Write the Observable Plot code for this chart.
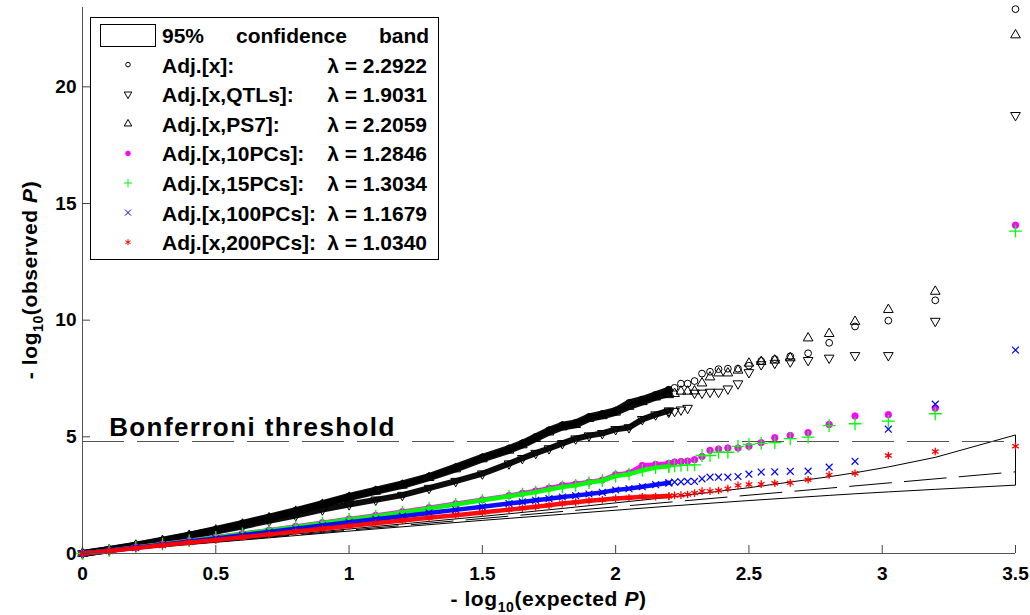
<!DOCTYPE html>
<html><head><meta charset="utf-8">
<script src="https://cdn.jsdelivr.net/npm/d3@7"></script>
<script src="https://cdn.jsdelivr.net/npm/@observablehq/plot@0.6"></script>
<style>
html,body{margin:0;padding:0;background:#fff;}
#chart{position:relative;width:1030px;height:615px;overflow:hidden;}
</style></head><body><div id="chart"></div>
<script>
const FONT = '"Liberation Sans", Arial, Helvetica, sans-serif';

// ---- axis ticks ----
const xTicks = [0, 0.5, 1, 1.5, 2, 2.5, 3, 3.5];
const yTicks = [0, 5, 10, 15, 20];

// ---- reference lines ----
const bonferroni = 4.80;
const diagX = [0, 3.5];
const bandX     = [0, 0.5, 1.0, 1.5, 1.8, 2.2, 2.5, 2.801, 2.898, 3.023, 3.199, 3.5];
const bandUpper = [0, 0.52, 1.05, 1.59, 1.93, 2.41, 2.82, 3.29, 3.46, 3.71, 4.12, 5.08];
const bandLower = [0, 0.48, 0.96, 1.42, 1.68, 2.03, 2.27, 2.49, 2.56, 2.64, 2.75, 2.93];

// ---- legend ----
const seriesNames = ["Adj.[x]:", "Adj.[x,QTLs]:", "Adj.[x,PS7]:", "Adj.[x,10PCs]:", "Adj.[x,15PCs]:", "Adj.[x,100PCs]:", "Adj.[x,200PCs]:"];
const lambdas = ["2.2922", "1.9031", "2.2059", "1.2846", "1.3034", "1.1679", "1.0340"];

// ---- dense body of each QQ curve (expected -log10 P vs observed) ----
const bodyX = [0, 0.1, 0.2, 0.3, 0.4, 0.5, 0.6, 0.7, 0.8, 0.9, 1.0, 1.1, 1.2, 1.3, 1.4, 1.5, 1.6, 1.65, 1.7, 1.75, 1.8, 1.85, 1.9, 1.95, 2.0, 2.05, 2.1, 2.15, 2.2];
const bodyAdj   = [0, 0.17, 0.36, 0.57, 0.79, 1.03, 1.29, 1.56, 1.84, 2.14, 2.45, 2.72, 2.98, 3.30, 3.70, 4.12, 4.50, 4.72, 5.00, 5.28, 5.50, 5.60, 5.85, 5.98, 6.12, 6.45, 6.60, 6.80, 7.00];
const bodyQTL   = [0, 0.15, 0.33, 0.52, 0.72, 0.94, 1.16, 1.40, 1.63, 1.88, 2.10, 2.30, 2.50, 2.80, 3.10, 3.42, 3.85, 4.08, 4.30, 4.50, 4.72, 4.92, 5.05, 5.15, 5.32, 5.40, 5.75, 5.95, 6.12];
const bodyPS7   = [0, 0.16, 0.35, 0.55, 0.77, 1.00, 1.25, 1.52, 1.80, 2.10, 2.40, 2.66, 2.92, 3.25, 3.62, 4.05, 4.42, 4.65, 4.92, 5.20, 5.42, 5.52, 5.78, 5.90, 6.05, 6.30, 6.50, 6.70, 6.85];
const body10PC  = [0, 0.12, 0.26, 0.40, 0.55, 0.70, 0.85, 1.00, 1.16, 1.32, 1.48, 1.63, 1.79, 1.96, 2.13, 2.30, 2.48, 2.58, 2.68, 2.80, 2.92, 2.98, 3.06, 3.15, 3.38, 3.45, 3.77, 3.82, 3.86];
const body15PC  = [0, 0.12, 0.26, 0.40, 0.54, 0.69, 0.84, 0.99, 1.14, 1.30, 1.46, 1.60, 1.76, 1.93, 2.10, 2.28, 2.45, 2.54, 2.63, 2.74, 2.85, 2.92, 3.04, 3.12, 3.32, 3.40, 3.56, 3.68, 3.74];
const body100PC = [0, 0.12, 0.25, 0.38, 0.51, 0.64, 0.78, 0.92, 1.06, 1.20, 1.34, 1.47, 1.60, 1.74, 1.87, 2.00, 2.14, 2.21, 2.28, 2.35, 2.42, 2.48, 2.55, 2.62, 2.72, 2.78, 2.86, 2.95, 3.03];
const body200PC = [0, 0.11, 0.23, 0.35, 0.47, 0.58, 0.70, 0.82, 0.94, 1.06, 1.18, 1.30, 1.41, 1.53, 1.64, 1.76, 1.88, 1.94, 2.00, 2.07, 2.14, 2.20, 2.26, 2.30, 2.36, 2.39, 2.43, 2.44, 2.46];

// ---- top-ranked individual SNPs (rank 1..20) ----
const tailX = [3.500, 3.199, 3.023, 2.898, 2.801, 2.722, 2.655, 2.597, 2.546, 2.500, 2.459, 2.421, 2.386, 2.354, 2.324, 2.296, 2.270, 2.245, 2.221, 2.199];
const tailAdj   = [23.33, 10.85, 9.98, 9.73, 9.03, 8.58, 8.45, 8.33, 8.25, 8.05, 7.92, 7.92, 7.90, 7.79, 7.71, 7.39, 7.28, 7.28, 7.10, 7.02];
const tailQTL   = [18.78, 9.96, 8.49, 8.49, 8.38, 8.28, 8.22, 8.16, 8.10, 7.76, 7.28, 7.06, 6.92, 6.92, 6.88, 6.88, 6.23, 6.16, 6.10, 6.06];
const tailPS7   = [22.22, 11.23, 10.45, 9.94, 9.42, 9.23, 8.38, 8.28, 8.22, 8.15, 7.85, 7.73, 7.73, 7.56, 7.30, 6.96, 6.95, 6.95, 6.85, 6.80];
const tail10PC  = [14.07, 6.23, 5.95, 5.89, 5.53, 5.18, 5.06, 4.96, 4.75, 4.60, 4.52, 4.52, 4.48, 4.42, 4.16, 4.02, 3.96, 3.94, 3.92, 3.85];
const tail15PC  = [13.82, 5.99, 5.67, 5.56, 5.48, 4.99, 4.92, 4.75, 4.72, 4.68, 4.59, 4.34, 4.34, 4.20, 4.20, 3.80, 3.80, 3.78, 3.76, 3.72];
const tail100PC = [8.72, 6.40, 5.33, 3.95, 3.70, 3.53, 3.52, 3.50, 3.49, 3.40, 3.30, 3.27, 3.27, 3.27, 3.20, 3.09, 3.09, 3.07, 3.06, 3.02];
const tail200PC = [4.60, 4.37, 4.20, 3.44, 3.37, 3.16, 3.03, 3.01, 2.97, 2.96, 2.92, 2.78, 2.70, 2.67, 2.67, 2.59, 2.53, 2.50, 2.49, 2.45];

// ---- styles ----
const styles = [
  {symbol: "circle",   stroke: "black", fill: "none", r: 3.4, rotate: 0,   lw: 7, sw: 1},
  {symbol: "triangle", stroke: "black", fill: "none", r: 3.6, rotate: 180, lw: 6, sw: 1},
  {symbol: "triangle", stroke: "black", fill: "none", r: 3.6, rotate: 0,   lw: 7, sw: 1},
  {symbol: "circle",   stroke: "#ff00ff", fill: "#ff00ff", r: 3.2, rotate: 0, lw: 4.5, sw: 1},
  {symbol: "plus",     stroke: "#00ff00", fill: "none", r: 4.2, rotate: 0, lw: 4.5, sw: 1.3},
  {symbol: "times",    stroke: "#0000ff", fill: "none", r: 3.2, rotate: 0, lw: 4.5, sw: 1.2},
  {symbol: "asterisk", stroke: "#ff0000", fill: "none", r: 3.6, rotate: 0, lw: 4.5, sw: 1.3}
];

const bodies = [bodyAdj, bodyQTL, bodyPS7, body10PC, body15PC, body100PC, body200PC];
const tails = [tailAdj, tailQTL, tailPS7, tail10PC, tail15PC, tail100PC, tail200PC];

const seriesMarks = [];
bodies.forEach((b, k) => {
  const s = styles[k];
  const body = bodyX.map((x, i) => ({x, y: b[i]}));
  const tail = tailX.map((x, i) => ({x, y: tails[k][i]}));
  seriesMarks.push(Plot.line(body, {x: "x", y: "y", stroke: s.stroke, strokeWidth: s.lw, strokeOpacity: 0.95}));
  seriesMarks.push(Plot.dot(body.concat(tail), {x: "x", y: "y", symbol: s.symbol, stroke: s.stroke, fill: s.fill, r: s.r, rotate: s.rotate, strokeWidth: s.sw}));
});

const bandPoly = bandX.map((x, i) => ({x, y: bandUpper[i]}))
  .concat(bandX.map((x, i) => ({x, y: bandLower[i]})).reverse());
const diag = diagX.map(x => ({x, y: x}));

const W = 1030, H = 615, ML = 82, MR = 15, MT = 7, MB = 62;
const frameW = W - ML - MR, frameH = H - MT - MB;

const svgNode = Plot.plot({
  width: W, height: H,
  marginLeft: ML, marginRight: MR, marginTop: MT, marginBottom: MB,
  style: {fontFamily: FONT, background: "white", overflow: "visible"},
  x: {domain: [0, 3.5]},
  y: {domain: [0, 23.4]},
  marks: [
    Plot.line(bandPoly, {x: "x", y: "y", stroke: "black", strokeWidth: 1}),
    Plot.line(diag, {x: "x", y: "y", stroke: "black", strokeWidth: 1, strokeDasharray: "42,13"}),
    Plot.ruleY([bonferroni], {stroke: "#555", strokeWidth: 1.2, strokeDasharray: "42,13"}),
    ...seriesMarks,
    Plot.text(["Bonferroni threshold"], {x: 0.1, y: bonferroni, dy: -6, text: d => d, textAnchor: "start", lineAnchor: "bottom", fontSize: 26, fontWeight: "bold", fill: "black", className: "bonf"}),
    Plot.ruleX([0], {stroke: "#555"}),
    Plot.ruleY([0], {stroke: "#555"}),
    Plot.ruleX(xTicks, {stroke: "#444", insetTop: frameH - 8}),
    Plot.ruleY(yTicks, {stroke: "#444", insetRight: frameW - 8}),
    Plot.axisX(xTicks, {tickSize: 0, tickPadding: 13, tickFormat: d => String(d), fontSize: 19, fontWeight: "bold", label: null}),
    Plot.axisY(yTicks, {tickSize: 0, tickPadding: 6, tickFormat: d => String(d), fontSize: 19, fontWeight: "bold", label: null})
  ]
});
document.getElementById("chart").appendChild(svgNode);

const svg = d3.select(svgNode);
svg.selectAll(".bonf text").attr("letter-spacing", "1.4px");

// axis titles with subscripts / italics
function axisTitle(g, word) {
  g.append("tspan").text("- log");
  g.append("tspan").attr("font-size", 14).attr("dy", 6).text("10");
  g.append("tspan").attr("dy", -6).text("(" + word + " ");
  g.append("tspan").attr("font-style", "italic").text("P");
  g.append("tspan").text(")");
}
const xt = svg.append("text").attr("x", ML + frameW / 2).attr("y", 606)
  .attr("text-anchor", "middle").attr("font-family", FONT).attr("font-weight", "bold").attr("font-size", 21).attr("letter-spacing", "0.6px");
axisTitle(xt, "expected");
const yt = svg.append("text").attr("transform", `translate(37,${MT + frameH / 2}) rotate(-90)`)
  .attr("text-anchor", "middle").attr("font-family", FONT).attr("font-weight", "bold").attr("font-size", 21).attr("letter-spacing", "0.6px");
axisTitle(yt, "observed");

// legend
const lg = svg.append("g").attr("font-family", FONT).attr("font-weight", "bold").attr("font-size", 21)
  .attr("fill", "black").attr("text-anchor", "start");
lg.append("rect").attr("x", 90.5).attr("y", 17.5).attr("width", 348).attr("height", 242).attr("fill", "white").attr("stroke", "black");
lg.append("rect").attr("x", 100.5).attr("y", 24.5).attr("width", 55).attr("height", 22).attr("fill", "white").attr("stroke", "black");
[["95%", 162], ["confidence", 236], ["band", 379]].forEach(([t, x]) => lg.append("text").attr("x", x).attr("y", 43).text(t));
const symMap = {circle: d3.symbolCircle, triangle: d3.symbolTriangle, plus: d3.symbolPlus, times: d3.symbolTimes, asterisk: d3.symbolAsterisk};
seriesNames.forEach((name, k) => {
  const yb = 72.6 + 29.6 * k;
  const s = styles[k];
  const sz = s.symbol === "circle" ? Math.PI * 2.3 * 2.3 : Math.PI * 2.8 * 2.8;
  lg.append("path").attr("d", d3.symbol(symMap[s.symbol], sz)())
    .attr("transform", `translate(128,${yb - 8}) rotate(${s.rotate})`)
    .attr("fill", s.fill).attr("stroke", s.stroke).attr("stroke-width", 1);
  lg.append("text").attr("x", 162).attr("y", yb).text(name);
  lg.append("text").attr("x", 427).attr("y", yb).attr("text-anchor", "end").text("λ = " + lambdas[k]);
});
</script></body></html>
